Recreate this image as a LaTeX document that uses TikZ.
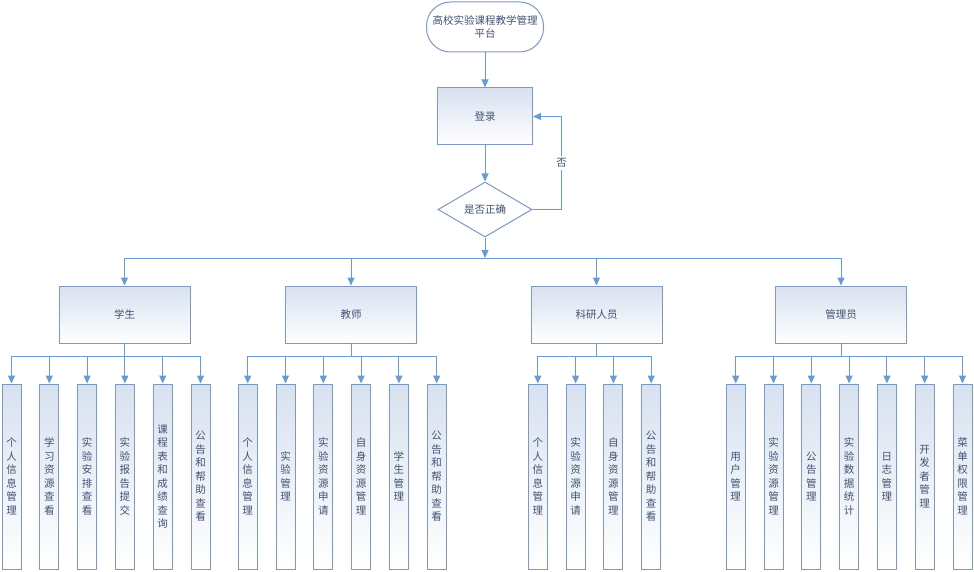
\documentclass[tikz,border=0pt]{standalone}
\usepackage{fontspec}
\setmainfont{Noto Sans CJK SC}
\usepackage{tikz}
\usetikzlibrary{shapes,arrows,arrows.meta,positioning}
\definecolor{linec}{RGB}{104,155,210}
\definecolor{edgec}{RGB}{125,153,192}
\definecolor{fillc}{RGB}{216,225,240}
\definecolor{textc}{RGB}{66,82,114}
\tikzstyle{line} = [draw=linec, line width=1pt, -{Triangle[length=8pt,width=7pt]}]
\tikzstyle{box} = [rectangle, draw=edgec, line width=1pt, top color=fillc, bottom color=white, text=textc, minimum width=131pt, minimum height=57pt, inner sep=0pt, align=center, font=\fontsize{10.5}{13.5}\selectfont]
\tikzstyle{sub} = [box, minimum width=19pt, minimum height=185pt, node distance=37.8pt]
\tikzstyle{start} = [box, rounded corners=24pt, top color=white, minimum width=117pt, minimum height=50pt]
\tikzstyle{check} = [diamond, draw=edgec, line width=1pt, fill=white, aspect=1.7, minimum width=94pt, minimum height=55pt, inner sep=0pt, text=textc, font=\fontsize{10.5}{13.5}\selectfont]
\tikzstyle{lbl} = [fill=white, text=textc, inner sep=2pt, font=\fontsize{10.5}{13.5}\selectfont]

\begin{document}
\begin{tikzpicture}[x=1pt, y=-1pt]
	\useasboundingbox (0,0) rectangle (974,572);
	
	\node [start] (top) at (485,27) {高校实验课程教学管理\\平台};
	\node [box, minimum width=95pt] (login) at (485,116.5) {登录};
	\node [check] (chk) at (485,209.5) {是否正确};
	\coordinate (bus) at (485,258);
	
	\node [box] (stu) at (124.5,314.5) {学生};
	\node [box] (tea) at (351,314.5) {教师};
	\node [box] (res) at (596.5,314.5) {科研人员};
	\node [box] (adm) at (841,314.5) {管理员};
	
	% students
	\node [sub] (s1) at (11.5,476.5) {个\\人\\信\\息\\管\\理};
	\node [sub, right of=s1] (s2) {学\\习\\资\\源\\查\\看};
	\node [sub, right of=s2] (s3) {实\\验\\安\\排\\查\\看};
	\node [sub, right of=s3] (s4) {实\\验\\报\\告\\提\\交};
	\node [sub, right of=s4] (s5) {课\\程\\表\\和\\成\\绩\\查\\询};
	\node [sub, right of=s5] (s6) {公\\告\\和\\帮\\助\\查\\看};
	
	% teachers
	\node [sub] (t1) at (247.7,476.5) {个\\人\\信\\息\\管\\理};
	\node [sub, right of=t1] (t2) {实\\验\\管\\理};
	\node [sub, right of=t2] (t3) {实\\验\\资\\源\\申\\请};
	\node [sub, right of=t3] (t4) {自\\身\\资\\源\\管\\理};
	\node [sub, right of=t4] (t5) {学\\生\\管\\理};
	\node [sub, right of=t5] (t6) {公\\告\\和\\帮\\助\\查\\看};
	
	% researchers
	\node [sub] (r1) at (537.8,476.5) {个\\人\\信\\息\\管\\理};
	\node [sub, right of=r1] (r2) {实\\验\\资\\源\\申\\请};
	\node [sub, right of=r2] (r3) {自\\身\\资\\源\\管\\理};
	\node [sub, right of=r3] (r4) {公\\告\\和\\帮\\助\\查\\看};
	
	% admin
	\node [sub] (a1) at (735.7,476.5) {用\\户\\管\\理};
	\node [sub, right of=a1] (a2) {实\\验\\资\\源\\管\\理};
	\node [sub, right of=a2] (a3) {公\\告\\管\\理};
	\node [sub, right of=a3] (a4) {实\\验\\数\\据\\统\\计};
	\node [sub, right of=a4] (a5) {日\\志\\管\\理};
	\node [sub, right of=a5] (a6) {开\\发\\者\\管\\理};
	\node [sub, right of=a6] (a7) {菜\\单\\权\\限\\管\\理};
	
	\path [line] (top.south) -- (login.north);
	\path [line] (login.south) -- (chk.north);
	\path [line] (chk.east) -- ++(29,0) |- (login.east) node [lbl, pos=0.25] {否};
	\path [line] (chk.south) -- (bus);
	
	\path [line] (bus) -| (stu.north);
	\path [line] (bus) -| (tea.north);
	\path [line] (bus) -| (res.north);
	\path [line] (bus) -| (adm.north);
	
	\path [line] (stu.south) -- ++(0,13) -| (s1.north);
	\path [line] (stu.south) -- ++(0,13) -| (s2.north);
	\path [line] (stu.south) -- ++(0,13) -| (s3.north);
	\path [line] (stu.south) -- ++(0,13) -| (s4.north);
	\path [line] (stu.south) -- ++(0,13) -| (s5.north);
	\path [line] (stu.south) -- ++(0,13) -| (s6.north);
	
	\path [line] (tea.south) -- ++(0,13) -| (t1.north);
	\path [line] (tea.south) -- ++(0,13) -| (t2.north);
	\path [line] (tea.south) -- ++(0,13) -| (t3.north);
	\path [line] (tea.south) -- ++(0,13) -| (t4.north);
	\path [line] (tea.south) -- ++(0,13) -| (t5.north);
	\path [line] (tea.south) -- ++(0,13) -| (t6.north);
	
	\path [line] (res.south) -- ++(0,13) -| (r1.north);
	\path [line] (res.south) -- ++(0,13) -| (r2.north);
	\path [line] (res.south) -- ++(0,13) -| (r3.north);
	\path [line] (res.south) -- ++(0,13) -| (r4.north);
	
	\path [line] (adm.south) -- ++(0,13) -| (a1.north);
	\path [line] (adm.south) -- ++(0,13) -| (a2.north);
	\path [line] (adm.south) -- ++(0,13) -| (a3.north);
	\path [line] (adm.south) -- ++(0,13) -| (a4.north);
	\path [line] (adm.south) -- ++(0,13) -| (a5.north);
	\path [line] (adm.south) -- ++(0,13) -| (a6.north);
	\path [line] (adm.south) -- ++(0,13) -| (a7.north);
\end{tikzpicture}
\end{document}
